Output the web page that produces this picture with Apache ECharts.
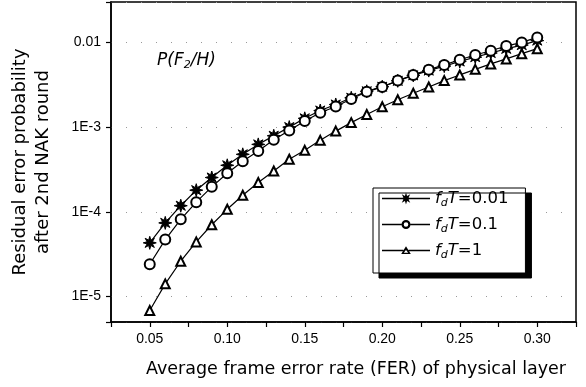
<!DOCTYPE html>
<html>
<head>
<meta charset="utf-8">
<script src="https://cdn.jsdelivr.net/npm/echarts@6/dist/echarts.min.js"></script>
<style>
html,body{margin:0;padding:0;background:#fff;}
#chart{width:586px;height:387px;}
</style>
</head>
<body>
<div id="chart"></div>
<script>
// ---- Data ----
const fer = [0.05,0.06,0.07,0.08,0.09,0.10,0.11,0.12,0.13,0.14,0.15,0.16,0.17,0.18,0.19,0.20,0.21,0.22,0.23,0.24,0.25,0.26,0.27,0.28,0.29,0.30];
const fdT001 = [4.3e-5,7.4e-5,1.18e-4,1.8e-4,2.54e-4,3.54e-4,4.77e-4,6.25e-4,7.9e-4,1.0e-3,1.27e-3,1.57e-3,1.85e-3,2.22e-3,2.65e-3,3.0e-3,3.52e-3,4.08e-3,4.65e-3,5.25e-3,5.95e-3,6.7e-3,7.5e-3,8.4e-3,9.3e-3,1.05e-2];
const fdT01  = [2.4e-5,4.7e-5,8.15e-5,1.3e-4,1.97e-4,2.85e-4,3.95e-4,5.22e-4,7.1e-4,9.14e-4,1.18e-3,1.48e-3,1.75e-3,2.15e-3,2.61e-3,2.98e-3,3.54e-3,4.13e-3,4.77e-3,5.42e-3,6.25e-3,7.1e-3,7.98e-3,9.06e-3,1.0e-2,1.146e-2];
const fdT1   = [6.84e-6,1.41e-5,2.61e-5,4.41e-5,7.03e-5,1.07e-4,1.57e-4,2.22e-4,3.03e-4,4.17e-4,5.32e-4,6.98e-4,8.97e-4,1.13e-3,1.41e-3,1.74e-3,2.10e-3,2.51e-3,2.98e-3,3.54e-3,4.13e-3,4.81e-3,5.57e-3,6.38e-3,7.36e-3,8.43e-3];
const seriesNames = ['fdT=0.01','fdT=0.1','fdT=1'];
const legendLabels = ['0.01','0.1','1'];
const yTickLabels = {'-5':'1E-5','-4':'1E-4','-3':'1E-3','-2':'0.01'};

// symbol paths
function starPts(cx,cy,R,r){
  let pts=[];
  for(let k=0;k<16;k++){
    const a=k*Math.PI/8 - Math.PI/2;
    const rr=(k%2===0)?R:r;
    pts.push((cx+rr*Math.cos(a)).toFixed(2)+' '+(cy+rr*Math.sin(a)).toFixed(2));
  }
  return 'M'+pts.join(' L')+' Z';
}
const STAR = 'path://'+starPts(50,50,50,22);
const anchors = ' M0 0 L0.5 0 L0 0.5 Z M480 120 L479.5 120 L480 119.5 Z';
function lineRect(x0,x1){ return 'M'+x0+' 52 L'+x1+' 52 L'+x1+' 68 L'+x0+' 68 Z '; }
const LEG_STAR = 'path://'+lineRect(0,480)+starPts(240,60,60,28)+anchors;
const LEG_CIRCLE = 'path://'+lineRect(0,195)+lineRect(285,480)+
  'M285 60 A45 45 0 1 1 195 60 A45 45 0 1 1 285 60 Z M263 60 A23 23 0 1 0 217 60 A23 23 0 1 0 263 60 Z'+anchors;
const LEG_TRI = 'path://'+lineRect(0,214)+lineRect(266,480)+
  'M240 18 L288 96 L192 96 Z M240 54 L218 82 L262 82 Z'+anchors;
const legendIcons = [LEG_STAR, LEG_CIRCLE, LEG_TRI];

const font = '"Liberation Sans", Arial, sans-serif';
const wfont = '"DejaVu Sans", sans-serif';
const chart = echarts.init(document.getElementById('chart'));

function pairs(ys){ return fer.map((x,i)=>[x,ys[i]]); }

const option = {
  backgroundColor:'#fff',
  animation:false,
  grid:{left:111,right:10,top:2,bottom:65,show:true,borderColor:'#000',borderWidth:1.5},
  xAxis:{
    type:'value',min:0.025,max:0.325,interval:0.025,
    axisLine:{lineStyle:{color:'#000',width:1.5}},
    axisTick:{inside:false,length:5,lineStyle:{color:'#000',width:1.2}},
    axisLabel:{color:'#000',fontFamily:font,fontSize:14,margin:10,
      formatter:function(v){const k=Math.round(v*1000); return (k%50===0)? (v.toFixed(2)) : '';}},
    splitLine:{show:false}
  },
  yAxis:{
    type:'log',logBase:10,min:5e-6,max:0.03,
    axisLine:{lineStyle:{color:'#000',width:1.5}},
    axisTick:{inside:false,length:5,lineStyle:{color:'#000',width:1.2}},
    axisLabel:{color:'#000',fontFamily:font,fontSize:14,margin:10,
      formatter:function(v){const l=Math.log10(v); const e=Math.round(l);
        if(Math.abs(l-e)>1e-6) return ''; return yTickLabels[String(e)]||'';}},
    splitLine:{show:true,lineStyle:{color:'#999',type:[1,14],width:1}}
  },
  legend:{
    orient:'vertical',left:373,top:188,
    data:seriesNames.map((n,i)=>({name:n,icon:legendIcons[i]})),
    backgroundColor:'#fff',borderColor:'#000',borderWidth:1,
    shadowColor:'#000',shadowBlur:0,shadowOffsetX:6,shadowOffsetY:5,
    padding:[2,17,12,9],itemGap:7,itemWidth:48,itemHeight:12,
    itemStyle:{color:'#000',borderWidth:0},
    formatter:function(name){const i=seriesNames.indexOf(name); return '{i|f}{s|d}{i|T=}{n|'+legendLabels[i]+'}';},
    textStyle:{color:'#000',fontFamily:wfont,fontSize:16.5,
      rich:{i:{fontStyle:'italic',fontSize:16.5,fontFamily:wfont},
            s:{fontStyle:'italic',fontSize:11,fontFamily:wfont,padding:[10,0,0,0]},
            n:{fontSize:16.5,fontFamily:wfont}}}
  },
  graphic:[
    {type:'text',left:157,top:52,style:{text:'{i|P(F}{s|2}{i|/H)}',fill:'#000',
      rich:{i:{fontStyle:'italic',fontSize:17,fontFamily:wfont},
            s:{fontStyle:'italic',fontSize:11,fontFamily:wfont,padding:[10,0,0,0]}}}},
    {type:'text',x:356,y:369,style:{text:'Average frame error rate (FER) of physical layer',fill:'#000',
      font:'17.5px "DejaVu Sans", sans-serif',textAlign:'center',textVerticalAlign:'middle'}},
    {type:'text',x:20,y:162,rotation:Math.PI/2,style:{text:'Residual error probability',fill:'#000',
      font:'18px "DejaVu Sans", sans-serif',textAlign:'center',textVerticalAlign:'middle'}},
    {type:'text',x:43,y:162,rotation:Math.PI/2,style:{text:'after 2nd NAK round',fill:'#000',
      font:'18px "DejaVu Sans", sans-serif',textAlign:'center',textVerticalAlign:'middle'}}
  ],
  series:[
    {name:seriesNames[0],type:'line',data:pairs(fdT001),symbol:STAR,symbolSize:13,
      lineStyle:{color:'#000',width:1.2},itemStyle:{color:'#000',borderColor:'#000'},z:2},
    {name:seriesNames[1],type:'line',data:pairs(fdT01),symbol:'emptyCircle',symbolSize:10,
      lineStyle:{color:'#000',width:1.2},itemStyle:{color:'#000',borderWidth:2},z:3},
    {name:seriesNames[2],type:'line',data:pairs(fdT1),symbol:'emptyTriangle',symbolSize:9,
      lineStyle:{color:'#000',width:1.2},itemStyle:{color:'#000',borderWidth:1.2},z:4}
  ]
};
chart.setOption(option);
</script>
</body>
</html>
